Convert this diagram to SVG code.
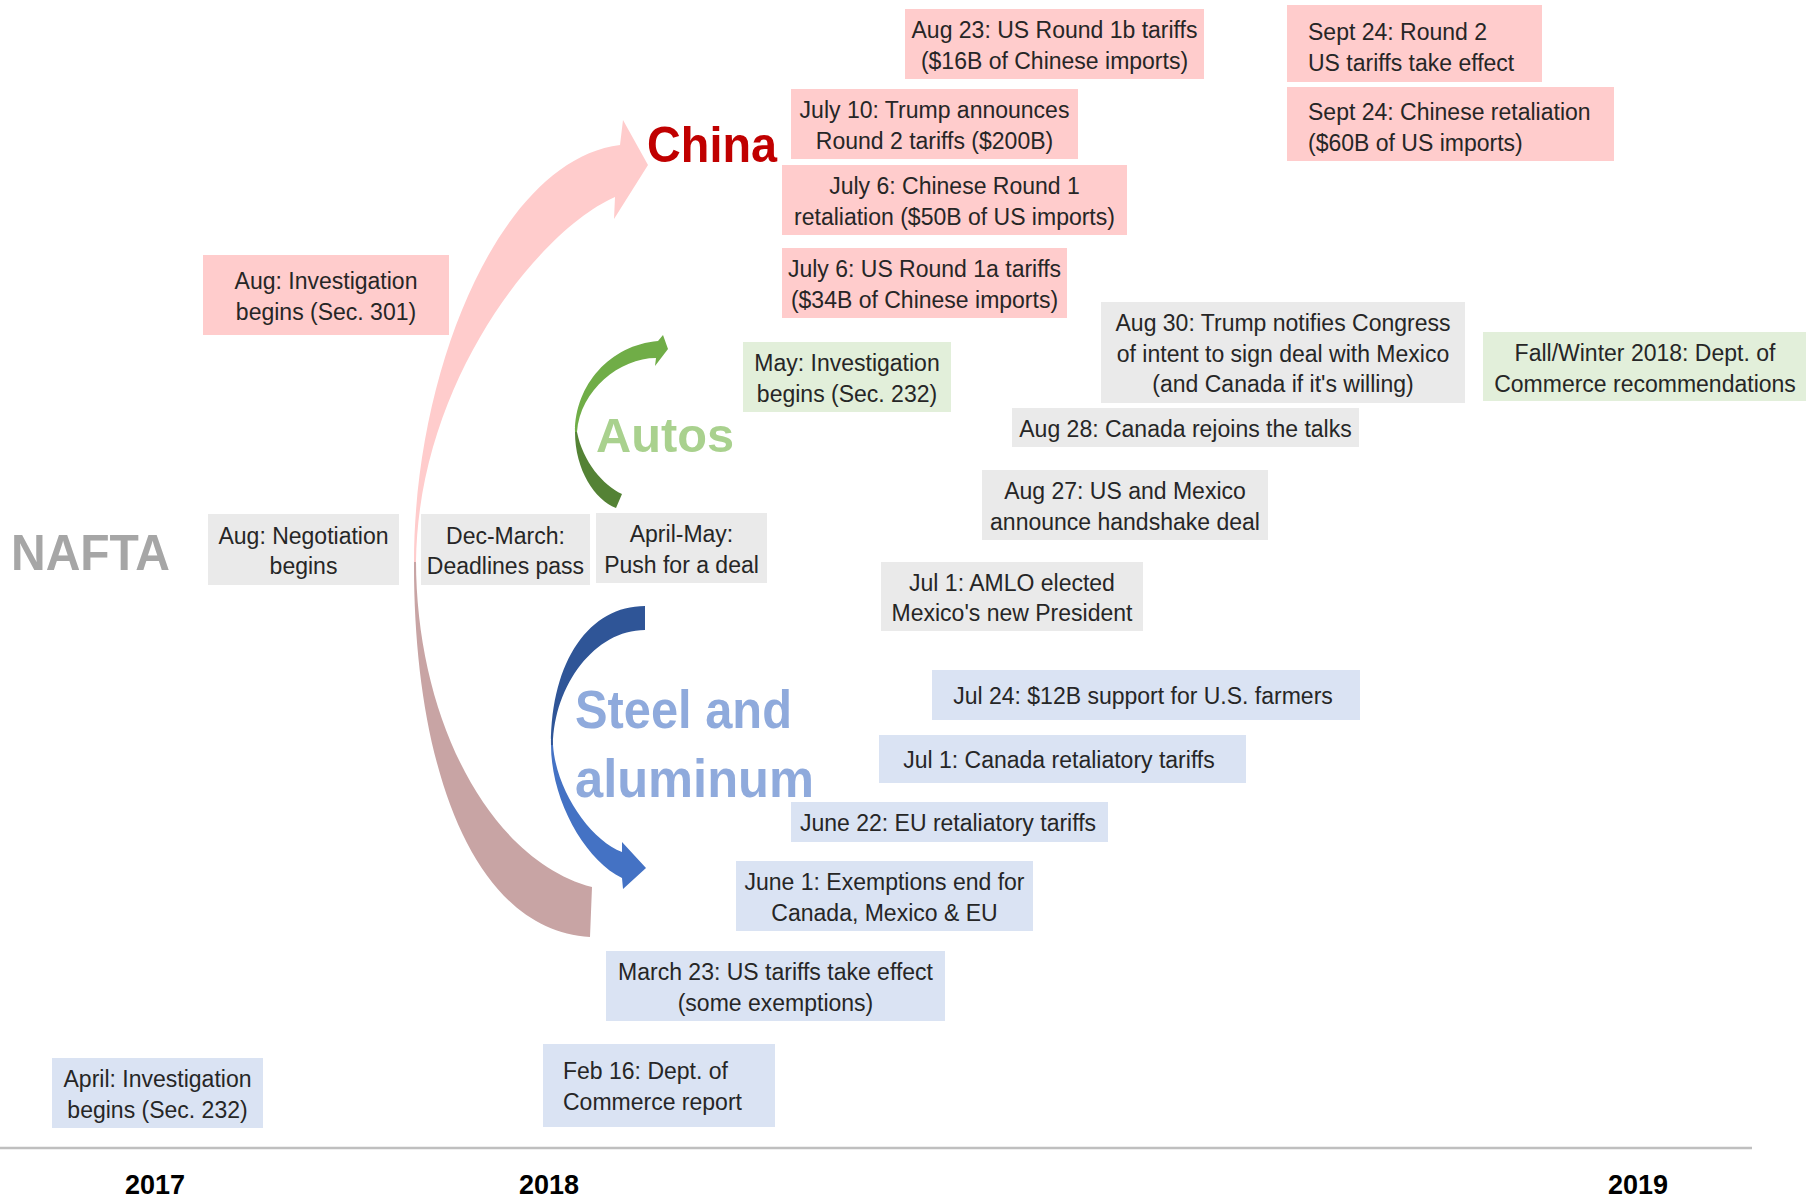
<svg xmlns="http://www.w3.org/2000/svg" width="1806" height="1198" viewBox="0 0 1806 1198">
<style>
.t{font-family:"Liberation Sans",Arial,sans-serif;font-size:23px;fill:#262626}
.c{text-anchor:middle}
.pk{fill:#FFCCCC}.gy{fill:#EAEAEA}.gn{fill:#E2EFDA}.bl{fill:#DAE3F3}
.h{font-family:"Liberation Sans",Arial,sans-serif;font-weight:bold}
.yr{font-family:"Liberation Sans",Arial,sans-serif;font-weight:bold;font-size:27px;fill:#000;text-anchor:middle}
</style>
<rect width="1806" height="1198" fill="#fff"/>

<g id="connectors">
  <!-- China big curved arrow -->
  <path d="M414,560 C413,760 470,930 590,937 L592,887 C490,860 416,720 416,560 Z" fill="#C8A4A4"/>
  <path d="M414,562 C414,370 500,160 620,145 L623,120 L648,165 L614,219 L615,197 C540,230 418,380 416,562 Z" fill="#FFCCCC"/>
  <!-- Autos curved arrow -->
  <path d="M575,432 C575,470 595,500 616,508 L622,494 C603,485 583,462 577,432 Z" fill="#548235"/>
  <path d="M575,432 C575,385 610,345 658,341 L663,335 L668,349 L655,366 L656,358 C620,358 580,390 577,432 Z" fill="#70AD47"/>
  <!-- Steel and aluminum curved arrow -->
  <path d="M645,606 C590,606 551,660 551,745 L553,745 C554,685 595,630 645,630 Z" fill="#2F5597"/>
  <path d="M551,745 C551,800 585,860 622,878 L623,889 L646,868 L622,842 L622,852 C590,840 556,790 553,745 Z" fill="#4472C4"/>
  <!-- timeline axis -->
  <line x1="0" y1="1148" x2="1752" y2="1148" stroke="#BFBFBF" stroke-width="2.5"/>
</g>

<g id="label-china"><text class="h" x="647" y="162" font-size="50" fill="#C00000" textLength="130" lengthAdjust="spacingAndGlyphs">China</text></g>
<g id="label-nafta"><text class="h" x="11" y="570" font-size="50" fill="#A6A6A6" textLength="159" lengthAdjust="spacingAndGlyphs">NAFTA</text></g>
<g id="label-autos"><text class="h" x="596" y="452" font-size="49" fill="#A9D18E" textLength="138" lengthAdjust="spacingAndGlyphs">Autos</text></g>
<g id="label-steel">
  <text class="h" x="575" y="728" font-size="53" fill="#8FAADC" textLength="217" lengthAdjust="spacingAndGlyphs">Steel and</text>
  <text class="h" x="575" y="797" font-size="53" fill="#8FAADC" textLength="239" lengthAdjust="spacingAndGlyphs">aluminum</text>
</g>

<g id="n-aug23"><rect class="pk" x="905" y="9" width="299" height="70"/>
  <text class="t c" x="1054.5" y="38">Aug 23: US Round 1b tariffs</text>
  <text class="t c" x="1054.5" y="69">($16B of Chinese imports)</text></g>
<g id="n-jul10"><rect class="pk" x="791" y="89" width="287" height="70"/>
  <text class="t c" x="934.5" y="118">July 10: Trump announces</text>
  <text class="t c" x="934.5" y="149">Round 2 tariffs ($200B)</text></g>
<g id="n-jul6-cn"><rect class="pk" x="782" y="165" width="345" height="70"/>
  <text class="t c" x="954.5" y="194">July 6: Chinese Round 1</text>
  <text class="t c" x="954.5" y="225">retaliation ($50B of US imports)</text></g>
<g id="n-jul6-us"><rect class="pk" x="782" y="248" width="285" height="70"/>
  <text class="t c" x="924.5" y="277">July 6: US Round 1a tariffs</text>
  <text class="t c" x="924.5" y="308">($34B of Chinese imports)</text></g>
<g id="n-sep24-us"><rect class="pk" x="1287" y="5" width="255" height="77"/>
  <text class="t" x="1308" y="40">Sept 24: Round 2</text>
  <text class="t" x="1308" y="71">US tariffs take effect</text></g>
<g id="n-sep24-cn"><rect class="pk" x="1287" y="87" width="327" height="74"/>
  <text class="t" x="1308" y="120">Sept 24: Chinese retaliation</text>
  <text class="t" x="1308" y="151">($60B of US imports)</text></g>
<g id="n-aug-301"><rect class="pk" x="203" y="255" width="246" height="80"/>
  <text class="t c" x="326" y="289">Aug: Investigation</text>
  <text class="t c" x="326" y="320">begins (Sec. 301)</text></g>

<g id="n-aug30"><rect class="gy" x="1101" y="302" width="364" height="101"/>
  <text class="t c" x="1283" y="331">Aug 30: Trump notifies Congress</text>
  <text class="t c" x="1283" y="362">of intent to sign deal with Mexico</text>
  <text class="t c" x="1283" y="392">(and Canada if it's willing)</text></g>
<g id="n-aug28"><rect class="gy" x="1012" y="408" width="347" height="39"/>
  <text class="t c" x="1185.5" y="437">Aug 28: Canada rejoins the talks</text></g>
<g id="n-aug27"><rect class="gy" x="982" y="470" width="286" height="70"/>
  <text class="t c" x="1125" y="499">Aug 27: US and Mexico</text>
  <text class="t c" x="1125" y="530">announce handshake deal</text></g>
<g id="n-jul1-amlo"><rect class="gy" x="881" y="562" width="262" height="69"/>
  <text class="t c" x="1012" y="591">Jul 1: AMLO elected</text>
  <text class="t c" x="1012" y="621">Mexico's new President</text></g>
<g id="n-aug-neg"><rect class="gy" x="208" y="514" width="191" height="71"/>
  <text class="t c" x="303.5" y="544">Aug: Negotiation</text>
  <text class="t c" x="303.5" y="574">begins</text></g>
<g id="n-dec-mar"><rect class="gy" x="421" y="514" width="169" height="71"/>
  <text class="t c" x="505.5" y="544">Dec-March:</text>
  <text class="t c" x="505.5" y="574">Deadlines pass</text></g>
<g id="n-apr-may"><rect class="gy" x="596" y="513" width="171" height="70"/>
  <text class="t c" x="681.5" y="542">April-May:</text>
  <text class="t c" x="681.5" y="573">Push for a deal</text></g>

<g id="n-may-232"><rect class="gn" x="743" y="342" width="208" height="70"/>
  <text class="t c" x="847" y="371">May: Investigation</text>
  <text class="t c" x="847" y="402">begins (Sec. 232)</text></g>
<g id="n-fall"><rect class="gn" x="1483" y="332" width="323" height="69"/>
  <text class="t c" x="1645" y="361">Fall/Winter 2018: Dept. of</text>
  <text class="t c" x="1645" y="392">Commerce recommendations</text></g>

<g id="n-jul24"><rect class="bl" x="932" y="670" width="428" height="50"/>
  <text class="t c" x="1143" y="704">Jul 24: $12B support for U.S. farmers</text></g>
<g id="n-jul1-ca"><rect class="bl" x="879" y="735" width="367" height="48"/>
  <text class="t c" x="1059" y="768">Jul 1: Canada retaliatory tariffs</text></g>
<g id="n-jun22"><rect class="bl" x="791" y="802" width="317" height="40"/>
  <text class="t c" x="948" y="831">June 22: EU retaliatory tariffs</text></g>
<g id="n-jun1"><rect class="bl" x="736" y="861" width="297" height="70"/>
  <text class="t c" x="884.5" y="890">June 1: Exemptions end for</text>
  <text class="t c" x="884.5" y="921">Canada, Mexico &amp; EU</text></g>
<g id="n-mar23"><rect class="bl" x="606" y="951" width="339" height="70"/>
  <text class="t c" x="775.5" y="980">March 23: US tariffs take effect</text>
  <text class="t c" x="775.5" y="1011">(some exemptions)</text></g>
<g id="n-feb16"><rect class="bl" x="543" y="1044" width="232" height="83"/>
  <text class="t" x="563" y="1079">Feb 16: Dept. of</text>
  <text class="t" x="563" y="1110">Commerce report</text></g>
<g id="n-apr-232"><rect class="bl" x="52" y="1058" width="211" height="70"/>
  <text class="t c" x="157.5" y="1087">April: Investigation</text>
  <text class="t c" x="157.5" y="1118">begins (Sec. 232)</text></g>

<g id="years">
  <text class="yr" x="155" y="1194">2017</text>
  <text class="yr" x="549" y="1194">2018</text>
  <text class="yr" x="1638" y="1194">2019</text>
</g>
</svg>
